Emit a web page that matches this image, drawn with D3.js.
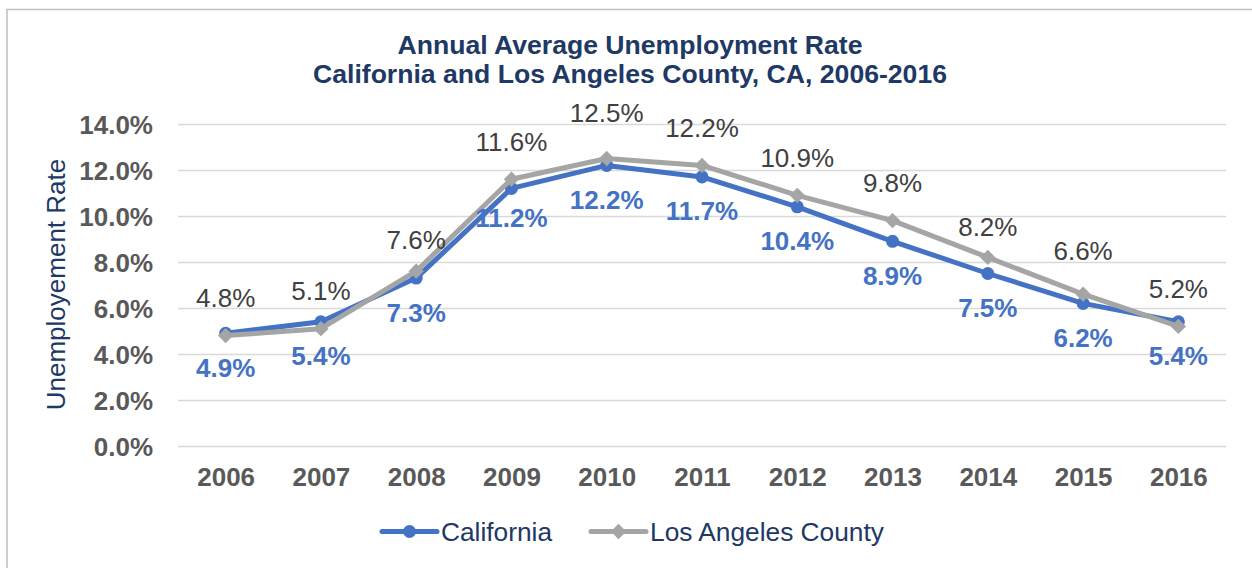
<!DOCTYPE html>
<html>
<head>
<meta charset="utf-8">
<script src="https://cdn.jsdelivr.net/npm/d3@7"></script>
<style>
  html, body { margin: 0; padding: 0; background: #fff; }
  svg { display: block; font-family: "Liberation Sans", Arial, sans-serif; }
</style>
</head>
<body>
<svg id="chart" width="1252" height="568"></svg>
<script>
// ---- data ----
const years = ["2006","2007","2008","2009","2010","2011","2012","2013","2014","2015","2016"];
const california = [4.9, 5.4, 7.3, 11.2, 12.2, 11.7, 10.4, 8.9, 7.5, 6.2, 5.4];
const losAngeles = [4.8, 5.1, 7.6, 11.6, 12.5, 12.2, 10.9, 9.8, 8.2, 6.6, 5.2];
const yTicks = [0, 2, 4, 6, 8, 10, 12, 14];
const titleLines = ["Annual Average Unemployment Rate", "California and Los Angeles County, CA, 2006-2016"];
const yAxisTitle = "Unemployement Rate";
const seriesNames = ["California", "Los Angeles County"];

// ---- style ----
const W = 1252, H = 568;
const plot = { left: 178, right: 1226, top: 124, bottom: 446 };
const BLUE = "#4472C4", GRAY = "#A5A5A5", NAVY = "#203864";
const FONT = 26;
// manually dragged label nudges (as in the source chart)
const laNudge = { "2008": 6, "2010": -8.5, "2014": 7, "2015": -5.5 };
const caNudge = { "2009": -4.5 };

const svg = d3.select("#chart");
svg.append("rect").attr("width", W).attr("height", H).attr("fill", "#fff");
// chart frame (only top and left edges visible)
svg.append("rect").attr("x", 7).attr("y", 9.5).attr("width", 1300).attr("height", 700)
  .attr("fill", "none").attr("stroke", "#BFBFBF").attr("stroke-width", 1.5);

const x = d3.scalePoint().domain(years).range([plot.left, plot.right]).padding(0.5);
const y = d3.scaleLinear().domain([0, 14]).range([plot.bottom, plot.top]);

// gridlines
const grid = svg.append("g").attr("transform", `translate(${plot.left},0)`)
  .call(d3.axisLeft(y).tickValues(yTicks).tickSize(-(plot.right - plot.left)).tickFormat(""));
grid.select(".domain").remove();
grid.selectAll("line").attr("stroke", "#D9D9D9").attr("stroke-width", 1.5);

// y axis labels
const yAx = svg.append("g").attr("transform", `translate(${plot.left},0)`)
  .call(d3.axisLeft(y).tickValues(yTicks).tickSize(0).tickPadding(25).tickFormat(d => d.toFixed(1) + "%"));
yAx.select(".domain").remove();
yAx.selectAll("text").attr("font-size", FONT).attr("font-weight", "bold")
  .attr("fill", "#595959").attr("font-family", "Liberation Sans, Arial, sans-serif").attr("dy", "0.36em");

// x axis labels
const xAx = svg.append("g").attr("transform", `translate(0,${plot.bottom})`)
  .call(d3.axisBottom(x).tickSize(0).tickPadding(21.5));
xAx.select(".domain").remove();
xAx.selectAll("text").attr("font-size", FONT).attr("font-weight", "bold")
  .attr("fill", "#595959").attr("font-family", "Liberation Sans, Arial, sans-serif");

// title
svg.append("g").selectAll("text").data(titleLines).join("text")
  .attr("x", 630).attr("y", (d, i) => 54 + i * 28.5)
  .attr("text-anchor", "middle").attr("font-size", 26.6).attr("font-weight", "bold")
  .attr("fill", NAVY).text(d => d);

// y axis title
svg.append("text").attr("transform", `translate(65,284.5) rotate(-90)`)
  .attr("text-anchor", "middle").attr("font-size", FONT).attr("fill", NAVY).text(yAxisTitle);

// series
const line = d3.line().x(d => x(d.year)).y(d => y(d.v));
const caData = years.map((yr, i) => ({ year: yr, v: california[i] }));
const laData = years.map((yr, i) => ({ year: yr, v: losAngeles[i] }));

// California
svg.append("path").datum(caData).attr("d", line).attr("fill", "none")
  .attr("stroke", BLUE).attr("stroke-width", 5).attr("stroke-linejoin", "round");
svg.append("g").selectAll("circle").data(caData).join("circle")
  .attr("cx", d => x(d.year)).attr("cy", d => y(d.v)).attr("r", 6.5).attr("fill", BLUE);

// Los Angeles County
const diamond = d3.symbol().type(d3.symbolDiamond2).size(150);
svg.append("path").datum(laData).attr("d", line).attr("fill", "none")
  .attr("stroke", GRAY).attr("stroke-width", 5).attr("stroke-linejoin", "round");
svg.append("g").selectAll("path").data(laData).join("path")
  .attr("d", diamond).attr("transform", d => `translate(${x(d.year)},${y(d.v)})`).attr("fill", GRAY);

// data labels
svg.append("g").selectAll("text").data(caData).join("text")
  .attr("x", d => x(d.year)).attr("y", d => y(d.v) + 43.5 + (caNudge[d.year] || 0))
  .attr("text-anchor", "middle").attr("font-size", FONT).attr("font-weight", "bold")
  .attr("fill", BLUE).text(d => d.v.toFixed(1) + "%");
svg.append("g").selectAll("text").data(laData).join("text")
  .attr("x", d => x(d.year)).attr("y", d => y(d.v) - 28.5 + (laNudge[d.year] || 0))
  .attr("text-anchor", "middle").attr("font-size", FONT)
  .attr("fill", "#404040").text(d => d.v.toFixed(1) + "%");

// legend
const legendItems = [
  { name: seriesNames[0], color: BLUE, x0: 382, mark: "circle" },
  { name: seriesNames[1], color: GRAY, x0: 591, mark: "diamond" }
];
const lg = svg.append("g");
legendItems.forEach(it => {
  const ly = 531.5;
  lg.append("line").attr("x1", it.x0).attr("x2", it.x0 + 55).attr("y1", ly).attr("y2", ly)
    .attr("stroke", it.color).attr("stroke-width", 5).attr("stroke-linecap", "round");
  if (it.mark === "circle") {
    lg.append("circle").attr("cx", it.x0 + 27.5).attr("cy", ly).attr("r", 6.5).attr("fill", it.color);
  } else {
    lg.append("path").attr("d", diamond).attr("transform", `translate(${it.x0 + 27.5},${ly})`).attr("fill", it.color);
  }
  lg.append("text").attr("x", it.x0 + 59).attr("y", 540.5).attr("font-size", 26.3)
    .attr("fill", NAVY).text(it.name);
});
</script>
</body>
</html>
